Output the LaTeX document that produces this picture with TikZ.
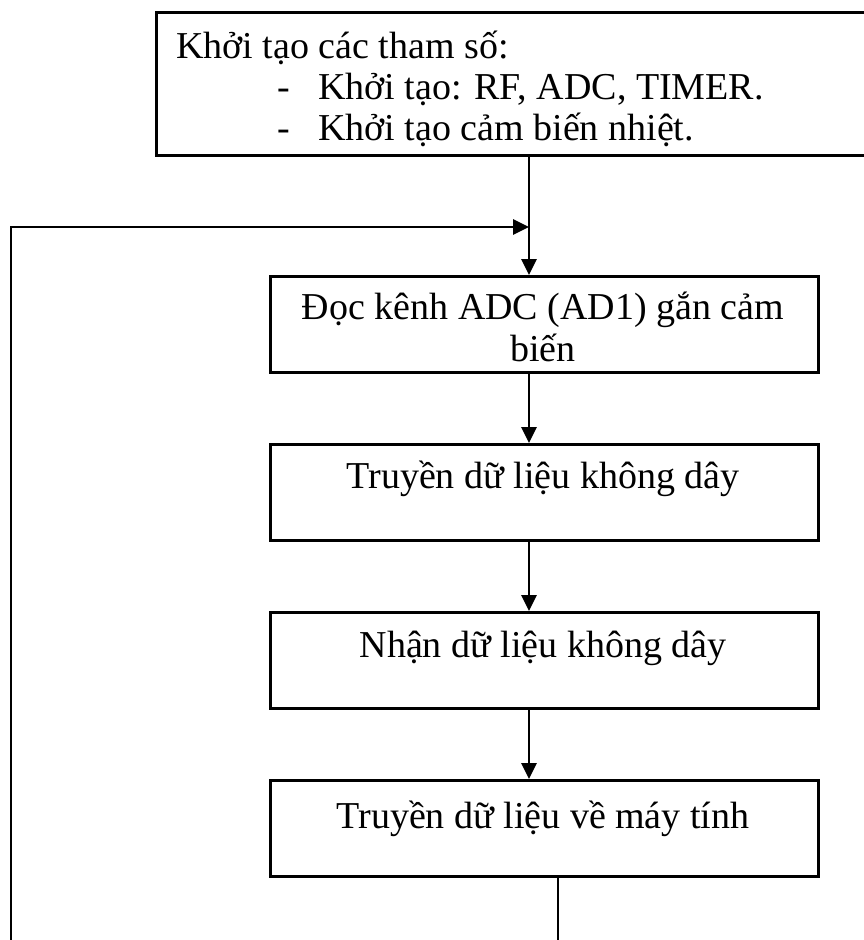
\documentclass[tikz,border=0pt]{standalone}
\usepackage{fontspec}
\setmainfont{Liberation Serif}
\usetikzlibrary{arrows.meta,calc}
\begin{document}
\begin{tikzpicture}[x=1pt,y=-1pt,
  box/.style={draw,line width=3pt,rectangle,anchor=north west,
    minimum width=548pt,minimum height=96pt,inner sep=0pt},
  link/.style={line width=2.7pt},
  arr/.style={link,-{Triangle[length=16pt,width=15pt]}},
  lbl/.style={font=\fontsize{38}{42}\selectfont,inner sep=0pt,anchor=base},
  lbll/.style={lbl,anchor=base west}]
\useasboundingbox (0,0) rectangle (864,940);
\clip (0,0) rectangle (864,940);

% initialisation box (its right side runs off the page)
\node[draw,line width=3pt,anchor=north west,minimum width=760pt,
  minimum height=143pt,inner sep=0pt] (init) at (155,11) {};
\node[lbll] (initA) at (176,58) {Khởi tạo các tham số:};
\node[lbll] (initB) at (277,99) {\makebox[41pt][l]{-}Khởi tạo: RF, ADC, TIMER.};
\node[lbll] (initC) at (277,140) {\makebox[41pt][l]{-}Khởi tạo cảm biến nhiệt.};

% process boxes
\node[box] (read) at (269,275) {};
\node[lbl] (readA) at (543,319) {Đọc kênh ADC (AD1) gắn cảm};
\node[lbl] (readB) at (543,361) {biến};

\node[box] (send) at (269,443) {};
\node[lbl] (sendL) at (543,488) {Truyền dữ liệu không dây};

\node[box] (recv) at (269,611) {};
\node[lbl] (recvL) at (543,657) {Nhận dữ liệu không dây};

\node[box] (pc) at (269,779) {};
\node[lbl] (pcL) at (543,828) {Truyền dữ liệu về máy tính};

% connectors
\coordinate (merge) at (529,227);
\coordinate (loopS) at (11,940);
\coordinate (endA) at (558,940);

\draw[arr] (init.south -| merge) -- (read.north -| merge);
\draw[arr] (read.south -| merge) -- (send.north -| merge);
\draw[arr] (send.south -| merge) -- (recv.north -| merge);
\draw[arr] (recv.south -| merge) -- (pc.north -| merge);
\draw[link] (pc.south -| endA) -- (endA);
\draw[arr] (loopS) |- (merge);
\end{tikzpicture}
\end{document}
